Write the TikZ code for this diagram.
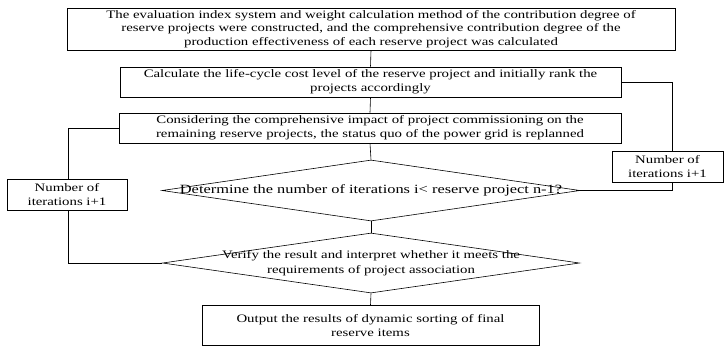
\documentclass[tikz,border=0pt]{standalone}
\usepackage{fontspec}
\setmainfont{Liberation Serif}[FakeStretch=1.3]
\usetikzlibrary{shapes.geometric}
\tikzset{
  box/.style={draw, line width=0.6pt, align=center, inner sep=0pt, font=\fontsize{11.4}{14}\selectfont},
  dia/.style={draw, line width=0.6pt, shape=diamond, inner sep=0pt, font=\fontsize{11.4}{14.5}\selectfont},
  link/.style={draw, line width=0.6pt}
}
\begin{document}
\begin{tikzpicture}[x=1pt,y=-1pt]
\useasboundingbox (0,0) rectangle (724,346);
\node[box, minimum width=608, minimum height=42, font=\fontsize{11.4}{13.5}\selectfont] (b1) at (371,29)
  {The evaluation index system and weight calculation method of the contribution degree of\\reserve projects were constructed, and the comprehensive contribution degree of the\\production effectiveness of each reserve project was calculated};
\node[box, minimum width=501, minimum height=30] (b2) at (370.5,82)
  {Calculate the life-cycle cost level of the reserve project and initially rank the\\projects accordingly};
\node[box, minimum width=502, minimum height=30] (b3) at (370,128)
  {Considering the comprehensive impact of project commissioning on the\\remaining reserve projects, the status quo of the power grid is replanned};
\node[dia, minimum width=418, minimum height=61, font=\fontsize{12.6}{14}\selectfont] (d1) at (371,190.5)
  {\makebox[0pt]{Determine the number of iterations i< reserve project n-1?}};
\node[dia, minimum width=417, minimum height=60] (d2) at (371,263)
  {\makebox[0pt]{\begin{tabular}{@{}c@{}}Verify the result and interpret whether it meets the\\requirements of project association\end{tabular}}};
\node[box, minimum width=337, minimum height=40] (b4) at (370.5,325.5)
  {Output the results of dynamic sorting of final\\reserve items};
\node[box, minimum width=120, minimum height=31] (lb) at (67,194.5)
  {Number of\\iterations i+1};
\node[box, minimum width=111, minimum height=31] (rb) at (667.5,166.5)
  {Number of\\iterations i+1};
\draw[link] (b1.south) -- (b2.north);
\draw[link] (b2.south) -- (b3.north);
\draw[link] (b3.south) -- (d1.north);
\draw[link] (d1.south) -- (d2.north);
\draw[link] (d2.south) -- (b4.north);
\draw[link] (b2.east) -| ([xshift=4.5pt]rb.north);
\draw[link] ([xshift=4.5pt]rb.south) |- (d1.east);
\draw[link] (b3.west) -| ([xshift=1pt]lb.north);
\draw[link] ([xshift=1pt]lb.south) |- (d2.west);
\end{tikzpicture}
\end{document}
